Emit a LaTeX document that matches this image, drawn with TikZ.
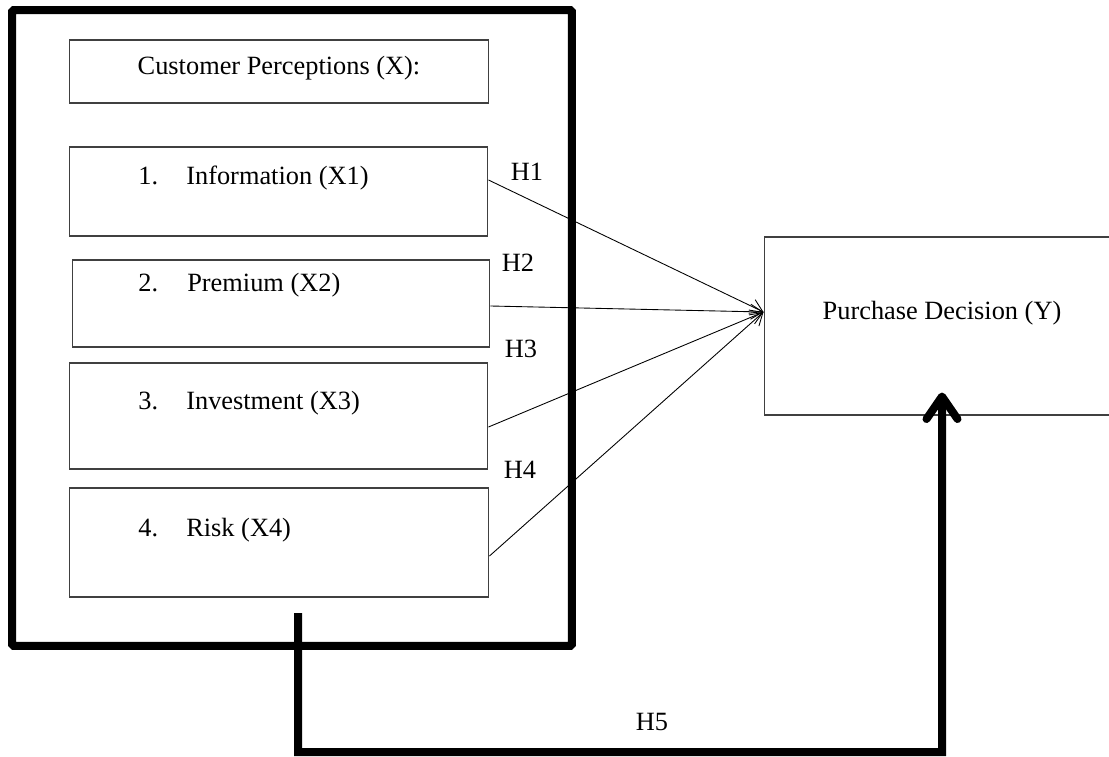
\documentclass[tikz,border=0pt]{standalone}
\usepackage{fontspec}
\setmainfont{Liberation Serif}
\usetikzlibrary{positioning,calc,arrows.meta}

\begin{document}
\begin{tikzpicture}[x=0.02cm, y=-0.02cm, >={Straight Barb[length=0.24cm, width=0.3cm]}, font=\fontsize{15}{18}\selectfont, box/.style = {rectangle, draw=black!75, line width=0.6pt, inner sep=0pt}, frame/.style = {rectangle, draw, line width=0.16cm, rounded corners=1pt, minimum width=11.2cm, minimum height=12.72cm, inner sep=0pt}, txt/.style = {inner sep=0pt, anchor=west}, lab/.style = {inner sep=0pt}, every edge/.append style={line width=0.5pt}, bigarrow/.style = {line width=0.16cm, -{Straight Barb[round, length=0.45cm, width=0.62cm]}}]

\useasboundingbox (0,0) rectangle (1109,757);

% outer frame
\node[frame] (X) at (292,328) {};

% inner boxes
\node[box, minimum width=8.4cm, minimum height=1.26cm] (hdr) at (279,71.5) {};
\node[box, minimum width=8.38cm, minimum height=1.78cm] (x1) at (278.5,191.5) {};
\node[box, minimum width=8.36cm, minimum height=1.74cm] (x2) at (281,303.5) {};
\node[box, minimum width=8.38cm, minimum height=2.12cm] (x3) at (278.5,416) {};
\node[box, minimum width=8.4cm, minimum height=2.18cm] (x4) at (279,542.5) {};
\node[box, minimum width=7.02cm, minimum height=3.56cm] (y) at (939.5,326) {};

\node[lab] (hdrtxt) at (279,68) {Customer Perceptions (X):};
\node[txt] (x1txt) at (138,178) {\makebox[0.96cm][l]{1.}Information (X1)};
\node[txt] (x2txt) at (138,285) {\makebox[0.98cm][l]{2.}Premium (X2)};
\node[txt] (x3txt) at (138,403) {\makebox[0.96cm][l]{3.}Investment (X3)};
\node[txt] (x4txt) at (138,530) {\makebox[0.96cm][l]{4.}Risk (X4)};
\node[lab] (ytxt) at (942,313) {Purchase Decision (Y)};

% hypotheses
\node[lab] (h1) at (527,172) {H1};
\node[lab] (h2) at (518,263) {H2};
\node[lab] (h3) at (521,349) {H3};
\node[lab] (h4) at (520,470) {H4};
\node[lab] (h5) at (652,722) {H5};

\path[->]
 ([yshift=0.23cm]x1.east) edge ([yshift=0.28cm]y.west)
 ([yshift=-0.05cm]x2.east) edge ([yshift=0.28cm]y.west)
 ([yshift=-0.22cm]x3.east) edge ([yshift=0.28cm]y.west)
 ([yshift=-0.27cm]x4.east) edge ([yshift=0.28cm]y.west);

\coordinate (h5s) at (298,613);
\coordinate (h5m) at (942,752);
\draw[bigarrow] (h5s) |- (h5m) -- ([xshift=0.05cm, yshift=0.46cm]y.south);
\end{tikzpicture}
\end{document}
